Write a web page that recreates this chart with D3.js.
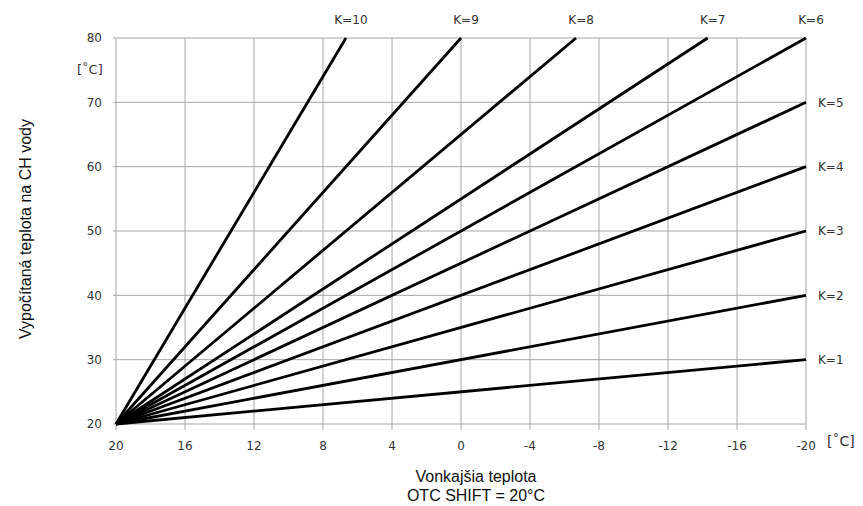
<!DOCTYPE html>
<html lang="sk">
<head>
<meta charset="UTF-8">
<title>Vykurovacie krivky</title>
<script src="https://d3js.org/d3.v7.min.js"></script>
<style>
  body { margin: 0; background: #fff; }
  svg text { font-family: "DejaVu Sans", Verdana, sans-serif; }
</style>
</head>
<body>
<svg id="chart" width="863" height="506"></svg>
<script>
// outdoor temperature ticks and flow temperature ticks
var xTicks = [20, 16, 12, 8, 4, 0, -4, -8, -12, -16, -20];
var yTicks = [20, 30, 40, 50, 60, 70, 80];

// heating curves: all start at (20, 20), end where they leave the chart
var curveNames = ["K=1", "K=2", "K=3", "K=4", "K=5", "K=6", "K=7", "K=8", "K=9", "K=10"];
var curveStart = [20, 20];
var curveEndOut = [-20, -20, -20, -20, -20, -20, -14.3, -6.67, 0, 6.67];
var curveEndFlow = [30, 40, 50, 60, 70, 80, 80, 80, 80, 80];

var svg = d3.select("#chart");
var x = d3.scaleLinear().domain([20, -20]).range([116, 806]);
var y = d3.scaleLinear().domain([20, 80]).range([424, 38]);

// grid
svg.append("g").selectAll("line").data(xTicks).join("line")
  .attr("x1", d => x(d)).attr("x2", d => x(d))
  .attr("y1", y(80)).attr("y2", y(20) + 6)
  .attr("stroke", "#a6a6a6").attr("stroke-width", 1);
svg.append("g").selectAll("line").data(yTicks).join("line")
  .attr("x1", x(20) - 3).attr("x2", x(-20))
  .attr("y1", d => y(d)).attr("y2", d => y(d))
  .attr("stroke", "#a6a6a6").attr("stroke-width", 1);

// tick labels
svg.append("g").selectAll("text").data(xTicks).join("text")
  .attr("x", d => x(d)).attr("y", 450)
  .attr("text-anchor", "middle")
  .attr("font-size", 12).attr("fill", "#333")
  .text(d => d);
svg.append("g").selectAll("text").data(yTicks).join("text")
  .attr("x", 102).attr("y", d => y(d)).attr("dy", "0.35em")
  .attr("text-anchor", "end")
  .attr("font-size", 12).attr("fill", "#333")
  .text(d => d);

// units
svg.append("text").attr("x", 77).attr("y", 74)
  .attr("font-size", 13).attr("fill", "#333").text("[˚C]");
svg.append("text").attr("x", 827).attr("y", 446)
  .attr("font-size", 14).attr("fill", "#333").text("[˚C]");

// curves
var line = d3.line().x(d => x(d[0])).y(d => y(d[1]));
curveNames.forEach(function(name, i) {
  var pts = [curveStart, [curveEndOut[i], curveEndFlow[i]]];
  svg.append("path").attr("d", line(pts))
    .attr("fill", "none").attr("stroke", "#000").attr("stroke-width", 2.8);
  var lab = svg.append("text").attr("font-size", 12).attr("fill", "#333").text(name);
  if (curveEndFlow[i] >= 80) {
    lab.attr("x", x(curveEndOut[i]) + 5).attr("y", 24).attr("text-anchor", "middle");
  } else {
    lab.attr("x", x(curveEndOut[i]) + 12).attr("y", y(curveEndFlow[i])).attr("dy", "0.35em");
  }
});

// axis titles
svg.append("text").attr("x", 476).attr("y", 482).attr("text-anchor", "middle")
  .style("font-family", "'Liberation Sans', Arial, sans-serif")
  .attr("font-size", 16).attr("fill", "#111").text("Vonkajšia teplota");
svg.append("text").attr("x", 476).attr("y", 501).attr("text-anchor", "middle")
  .style("font-family", "'Liberation Sans', Arial, sans-serif")
  .attr("font-size", 16).attr("fill", "#111").text("OTC SHIFT = 20°C");
svg.append("text").attr("transform", "translate(31,229) rotate(-90)")
  .attr("text-anchor", "middle")
  .style("font-family", "'Liberation Sans', Arial, sans-serif")
  .attr("font-size", 16).attr("fill", "#111").text("Vypočítaná teplota na CH vody");
</script>
</body>
</html>
